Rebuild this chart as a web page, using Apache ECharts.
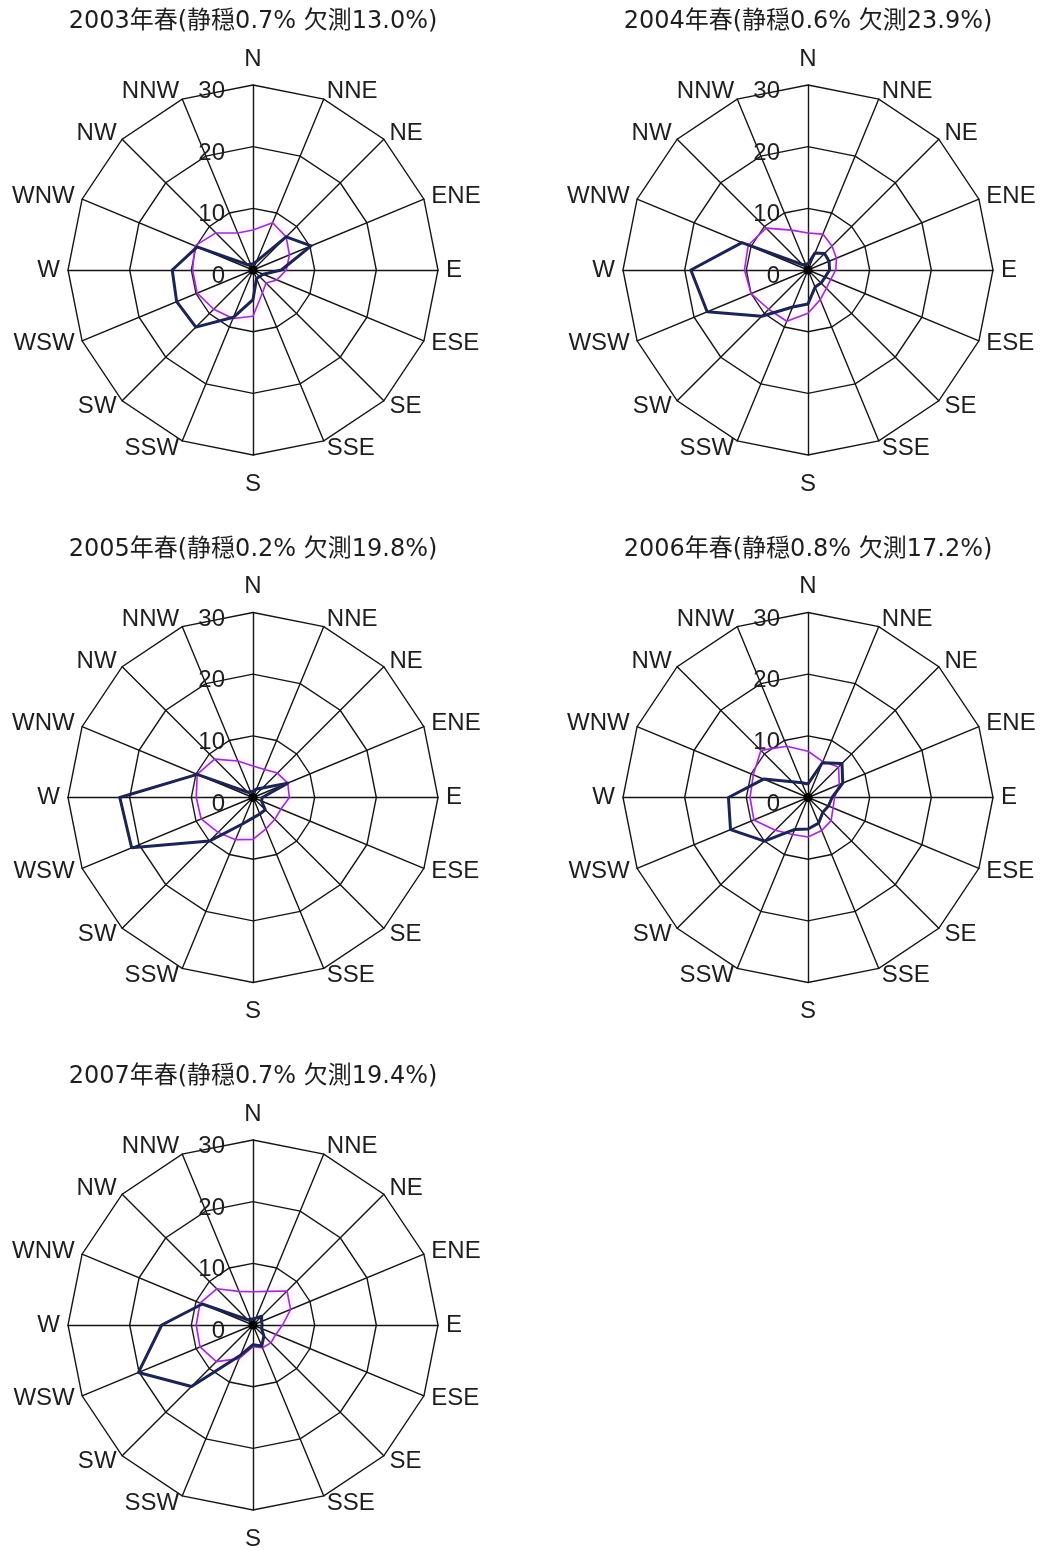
<!DOCTYPE html>
<html>
<head>
<meta charset="utf-8">
<script src="https://cdn.jsdelivr.net/npm/echarts@6/dist/echarts.min.js"></script>
<style>
  html, body { margin: 0; padding: 0; background: #ffffff; }
  #chart { width: 1046px; height: 1551px; }
</style>
</head>
<body>
<div id="chart"></div>
<script>
// 16 wind directions, clockwise from north
const directions = ['N', 'NNE', 'NE', 'ENE', 'E', 'ESE', 'SE', 'SSE',
                    'S', 'SSW', 'SW', 'WSW', 'W', 'WNW', 'NW', 'NNW'];

const years      = ['2003', '2004', '2005', '2006', '2007'];
const calmPct    = ['0.7', '0.6', '0.2', '0.8', '0.7'];
const missingPct = ['13.0', '23.9', '19.8', '17.2', '19.4'];

// Radial scale (%)
const radialMin = 0;
const radialMax = 30;
const radialSplits = 3;

// Frequency (%) by direction, thick navy line
const navy2003 = [1.0, 1.5, 7.6, 10.2, 4.6, 1.8, 1.5, 1.5, 4.8, 8.3, 13.1, 13.4, 13.1, 9.8, 1.2, 1.0];
const navy2004 = [1.0, 3.0, 3.8, 3.7, 3.5, 3.0, 3.0, 3.0, 5.5, 6.5, 10.6, 17.7, 19.0, 11.6, 1.2, 1.0];
const navy2005 = [1.0, 1.5, 2.2, 6.1, 1.5, 1.5, 2.8, 2.9, 3.3, 4.7, 10.0, 21.3, 21.6, 9.8, 1.2, 1.0];
const navy2006 = [2.2, 6.1, 7.8, 6.1, 3.9, 3.6, 3.4, 4.5, 5.1, 5.6, 10.0, 13.6, 12.9, 7.8, 3.6, 2.6];
const navy2007 = [1.0, 1.2, 2.0, 1.5, 1.5, 1.5, 2.5, 3.7, 3.2, 5.3, 14.1, 20.1, 14.8, 8.9, 1.2, 1.0];

// Frequency (%) by direction, thin magenta line
const magenta2003 = [6.5, 8.3, 7.6, 6.4, 5.4, 4.2, 3.0, 4.0, 7.5, 8.5, 9.0, 9.8, 9.8, 10.2, 8.5, 6.5];
const magenta2004 = [6.0, 6.3, 5.5, 5.0, 4.5, 4.0, 4.2, 5.2, 7.0, 9.0, 9.0, 10.0, 10.3, 10.5, 9.6, 7.0];
const magenta2005 = [5.1, 4.9, 5.6, 6.1, 5.9, 4.9, 5.0, 5.5, 6.8, 7.4, 8.0, 9.1, 9.2, 9.8, 8.8, 6.4];
const magenta2006 = [7.5, 6.3, 7.0, 5.5, 4.3, 4.4, 5.3, 5.8, 6.4, 6.5, 7.5, 9.5, 9.4, 9.6, 10.8, 9.0];
const magenta2007 = [5.4, 5.9, 7.8, 6.6, 4.8, 4.0, 4.1, 4.0, 3.5, 5.9, 8.4, 9.3, 9.2, 9.3, 8.3, 5.9];

const navySeries    = [navy2003, navy2004, navy2005, navy2006, navy2007];
const magentaSeries = [magenta2003, magenta2004, magenta2005, magenta2006, magenta2007];

// ECharts lays radar indicators out counter-clockwise; reorder so the
// compass runs clockwise starting at N.
function toCcw(arr) {
  return [arr[0]].concat(arr.slice(1).reverse());
}

// Panel layout: two columns, three rows
const colX = [253, 808];
const rowY = [270, 797.5, 1325];
const radius = 185;

const labelFont = '"Liberation Sans", Arial, sans-serif';
const titleFont = '"DejaVu Sans", "Noto Sans CJK JP", sans-serif';
const inkColor = '#1e1e1e';
const gridColor = '#141414';

const indicators = toCcw(directions).map(function (name, i) {
  const ind = { name: name, min: radialMin, max: radialMax };
  if (i === 0) ind.axisLabel = { show: true };
  return ind;
});

const titles = [];
const radars = [];
const series = [];
const hubs = [];

years.forEach(function (year, k) {
  const cx = colX[k % 2];
  const cy = rowY[Math.floor(k / 2)];

  titles.push({
    text: year + '年春(静穏' + calmPct[k] + '% 欠測' + missingPct[k] + '%)',
    left: cx,
    top: cy - 260,
    textAlign: 'center',
    padding: 0,
    textStyle: {
      fontFamily: titleFont,
      fontSize: 24,
      fontWeight: 'normal',
      color: inkColor
    }
  });

  radars.push({
    center: [cx, cy],
    radius: radius,
    startAngle: 90,
    shape: 'polygon',
    splitNumber: radialSplits,
    indicator: indicators,
    axisNameGap: 8,
    axisName: {
      color: inkColor,
      fontFamily: labelFont,
      fontSize: 24,
      formatter: function (name) {
        if (name === 'N') return '{up|' + name + '}';
        if (name === 'S') return '{down|' + name + '}';
        return name;
      },
      rich: {
        up:   { fontFamily: labelFont, fontSize: 24, color: inkColor, padding: [0, 0, 6, 0] },
        down: { fontFamily: labelFont, fontSize: 24, color: inkColor, padding: [9, 0, 0, 0] }
      }
    },
    axisLabel: {
      show: false,
      margin: 28,
      fontFamily: labelFont,
      fontSize: 24,
      color: inkColor,
      verticalAlign: 'top',
      lineHeight: 13
    },
    axisTick: { show: false },
    axisLine: { lineStyle: { color: gridColor, width: 1.4 } },
    splitLine: { lineStyle: { color: gridColor, width: 1.4 } },
    splitArea: { show: false }
  });

  series.push({
    type: 'radar',
    radarIndex: k,
    symbol: 'none',
    silent: true,
    data: [
      {
        value: toCcw(magentaSeries[k]),
        lineStyle: {
          color: '#9437c4',
          width: 1.6,
          shadowColor: 'rgba(255, 120, 255, 0.6)',
          shadowBlur: 6
        }
      },
      {
        value: toCcw(navySeries[k]),
        lineStyle: { color: '#1b2452', width: 3 }
      }
    ]
  });

  // hub where the spokes meet
  hubs.push({
    type: 'circle',
    shape: { cx: cx, cy: cy, r: 4.5 },
    style: { fill: '#000000' },
    z: 10,
    silent: true
  });
});

const chart = echarts.init(document.getElementById('chart'), null, { renderer: 'canvas' });
chart.setOption({
  backgroundColor: '#ffffff',
  animation: false,
  title: titles,
  radar: radars,
  series: series,
  graphic: hubs
});
</script>
</body>
</html>
